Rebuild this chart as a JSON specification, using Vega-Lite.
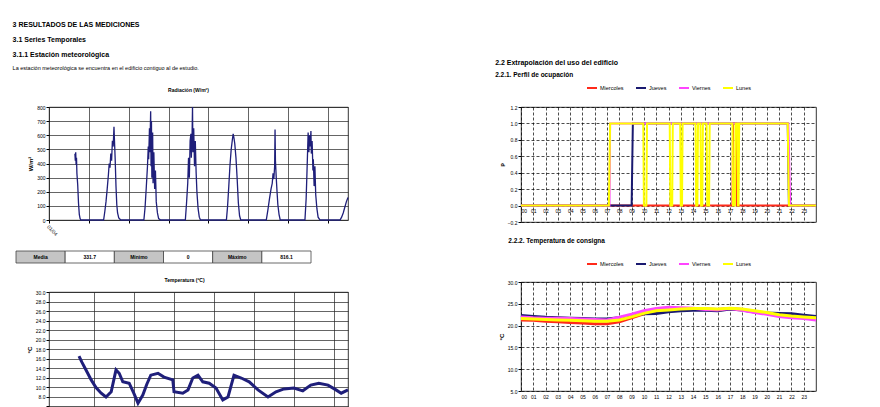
{
  "$schema": "https://vega.github.io/schema/vega-lite/v6.json",
  "background": "white",
  "padding": {"left": 12, "top": 20, "right": 0, "bottom": 0},
  "config": {
    "font": "Liberation Sans",
    "view": {"stroke": "#000", "strokeWidth": 0.8},
    "axis": {"labelFontSize": 5, "labelColor": "#000", "titleFontSize": 6, "titleColor": "#000", "titleFontWeight": "bold", "tickColor": "#000", "domainColor": "#000", "gridColor": "#000", "gridOpacity": 1, "gridWidth": 0.7, "tickSize": 3, "labelPadding": 1, "titlePadding": 3},
    "legend": {"labelFontSize": 5.5, "labelColor": "#000", "symbolType": "stroke", "symbolSize": 100, "symbolStrokeWidth": 2, "columnPadding": 8, "labelOffset": 2, "padding": 0, "layout": {"top": {"anchor": "middle"}}},
    "title": {"color": "#000", "subtitleColor": "#000", "fontWeight": "bold"}
  },
  "datasets": {
    "rad": [
      {"t":0.65,"w":470},{"t":0.66,"w":420},{"t":0.67,"w":480},{"t":0.68,"w":390},{"t":0.69,"w":440},{"t":0.70,"w":330},{"t":0.72,"w":250},{"t":0.74,"w":120},{"t":0.76,"w":40},{"t":0.78,"w":10},{"t":0.80,"w":0},{"t":1.0,"w":0},{"t":1.2,"w":0},
      {"t":1.37,"w":0},{"t":1.40,"w":60},{"t":1.43,"w":130},{"t":1.46,"w":220},{"t":1.49,"w":320},{"t":1.51,"w":400},{"t":1.53,"w":370},{"t":1.55,"w":470},{"t":1.57,"w":420},{"t":1.59,"w":560},{"t":1.61,"w":520},{"t":1.63,"w":660},{"t":1.64,"w":580},{"t":1.66,"w":430},{"t":1.68,"w":240},{"t":1.70,"w":110},{"t":1.72,"w":50},{"t":1.75,"w":15},{"t":1.80,"w":0},{"t":2.0,"w":0},{"t":2.2,"w":0},
      {"t":2.38,"w":0},{"t":2.41,"w":90},{"t":2.44,"w":230},{"t":2.47,"w":380},{"t":2.49,"w":520},{"t":2.50,"w":430},{"t":2.52,"w":650},{"t":2.53,"w":480},{"t":2.55,"w":770},{"t":2.56,"w":380},{"t":2.57,"w":700},{"t":2.58,"w":300},{"t":2.60,"w":620},{"t":2.61,"w":260},{"t":2.63,"w":480},{"t":2.65,"w":220},{"t":2.67,"w":350},{"t":2.69,"w":130},{"t":2.72,"w":50},{"t":2.75,"w":10},{"t":2.80,"w":0},{"t":3.0,"w":0},{"t":3.2,"w":0},
      {"t":3.42,"w":0},{"t":3.45,"w":120},{"t":3.48,"w":260},{"t":3.50,"w":440},{"t":3.52,"w":300},{"t":3.54,"w":560},{"t":3.56,"w":610},{"t":3.57,"w":440},{"t":3.59,"w":620},{"t":3.60,"w":800},{"t":3.61,"w":480},{"t":3.63,"w":650},{"t":3.65,"w":380},{"t":3.67,"w":560},{"t":3.69,"w":340},{"t":3.71,"w":200},{"t":3.74,"w":80},{"t":3.77,"w":20},{"t":3.80,"w":0},{"t":4.0,"w":0},{"t":4.2,"w":0},
      {"t":4.45,"w":0},{"t":4.48,"w":100},{"t":4.51,"w":240},{"t":4.54,"w":390},{"t":4.57,"w":500},{"t":4.60,"w":570},{"t":4.62,"w":610},{"t":4.64,"w":580},{"t":4.66,"w":540},{"t":4.69,"w":440},{"t":4.72,"w":290},{"t":4.75,"w":120},{"t":4.78,"w":30},{"t":4.81,"w":0},{"t":5.0,"w":0},{"t":5.2,"w":0},
      {"t":5.45,"w":0},{"t":5.49,"w":70},{"t":5.53,"w":150},{"t":5.57,"w":220},{"t":5.60,"w":260},{"t":5.62,"w":330},{"t":5.64,"w":290},{"t":5.66,"w":380},{"t":5.67,"w":640},{"t":5.68,"w":420},{"t":5.70,"w":300},{"t":5.72,"w":200},{"t":5.74,"w":110},{"t":5.77,"w":40},{"t":5.80,"w":0},{"t":6.0,"w":0},{"t":6.2,"w":0},
      {"t":6.42,"w":0},{"t":6.45,"w":150},{"t":6.47,"w":330},{"t":6.49,"w":520},{"t":6.50,"w":620},{"t":6.52,"w":480},{"t":6.53,"w":600},{"t":6.55,"w":520},{"t":6.57,"w":630},{"t":6.58,"w":470},{"t":6.60,"w":560},{"t":6.62,"w":350},{"t":6.63,"w":430},{"t":6.65,"w":240},{"t":6.67,"w":380},{"t":6.69,"w":180},{"t":6.72,"w":80},{"t":6.75,"w":20},{"t":6.80,"w":0},{"t":7.0,"w":0},
      {"t":7.3,"w":0},{"t":7.34,"w":20},{"t":7.38,"w":50},{"t":7.42,"w":90},{"t":7.46,"w":130},{"t":7.5,"w":160}
    ],
    "temp": [
      {"t":0.625,"c":16.5},{"t":0.7,"c":15.2},{"t":0.8,"c":13.6},{"t":0.93,"c":11.5},{"t":1.05,"c":9.9},{"t":1.18,"c":8.7},{"t":1.3,"c":7.9},{"t":1.43,"c":9.0},{"t":1.55,"c":13.6},{"t":1.63,"c":12.9},{"t":1.72,"c":11.1},{"t":1.88,"c":10.8},{"t":2.0,"c":8.6},{"t":2.1,"c":6.6},{"t":2.22,"c":8.3},{"t":2.32,"c":10.6},{"t":2.42,"c":12.5},{"t":2.6,"c":12.9},{"t":2.75,"c":12.1},{"t":2.97,"c":11.5},{"t":3.0,"c":9.0},{"t":3.22,"c":8.7},{"t":3.35,"c":9.4},{"t":3.47,"c":11.9},{"t":3.6,"c":12.5},{"t":3.72,"c":11.1},{"t":3.88,"c":10.8},{"t":4.05,"c":9.8},{"t":4.22,"c":7.3},{"t":4.35,"c":7.9},{"t":4.5,"c":12.5},{"t":4.68,"c":11.9},{"t":4.88,"c":11.1},{"t":5.1,"c":9.4},{"t":5.35,"c":7.9},{"t":5.55,"c":9.0},{"t":5.75,"c":9.6},{"t":6.0,"c":9.8},{"t":6.22,"c":9.2},{"t":6.42,"c":10.4},{"t":6.62,"c":10.8},{"t":6.85,"c":10.4},{"t":7.05,"c":9.4},{"t":7.18,"c":8.7},{"t":7.35,"c":9.4}
    ],
    "tabla": [
      {"celda":"c1","texto":"Media","tipo":"etiqueta"},
      {"celda":"c2","texto":"331.7","tipo":"valor"},
      {"celda":"c3","texto":"Mínimo","tipo":"etiqueta"},
      {"celda":"c4","texto":"0","tipo":"valor"},
      {"celda":"c5","texto":"Máximo","tipo":"etiqueta"},
      {"celda":"c6","texto":"816.1","tipo":"valor"}
    ],
    "ocup": [
      {"dia":"Miercoles","hora":0,"p":0},{"dia":"Miercoles","hora":17.2,"p":0},{"dia":"Miercoles","hora":17.25,"p":1},{"dia":"Miercoles","hora":17.5,"p":1},{"dia":"Miercoles","hora":17.55,"p":0},{"dia":"Miercoles","hora":24,"p":0},
      {"dia":"Jueves","hora":0,"p":0},{"dia":"Jueves","hora":9.0,"p":0},{"dia":"Jueves","hora":9.1,"p":1},{"dia":"Jueves","hora":21.7,"p":1},{"dia":"Jueves","hora":21.8,"p":0},{"dia":"Jueves","hora":24,"p":0},
      {"dia":"Viernes","hora":0,"p":0},{"dia":"Viernes","hora":7.2,"p":0},{"dia":"Viernes","hora":7.25,"p":1},{"dia":"Viernes","hora":21.75,"p":1},{"dia":"Viernes","hora":21.9,"p":0},{"dia":"Viernes","hora":24,"p":0},
      {"dia":"Lunes","hora":0,"p":0},{"dia":"Lunes","hora":7.15,"p":0},{"dia":"Lunes","hora":7.25,"p":1},{"dia":"Lunes","hora":9.95,"p":1},{"dia":"Lunes","hora":10.0,"p":0},{"dia":"Lunes","hora":10.2,"p":0},{"dia":"Lunes","hora":10.25,"p":1},{"dia":"Lunes","hora":12.1,"p":1},{"dia":"Lunes","hora":12.15,"p":0},{"dia":"Lunes","hora":12.3,"p":0},{"dia":"Lunes","hora":12.35,"p":1},{"dia":"Lunes","hora":12.95,"p":1},{"dia":"Lunes","hora":13.0,"p":0},{"dia":"Lunes","hora":13.1,"p":0},{"dia":"Lunes","hora":13.15,"p":1},{"dia":"Lunes","hora":14.2,"p":1},{"dia":"Lunes","hora":14.25,"p":0},{"dia":"Lunes","hora":14.35,"p":0},{"dia":"Lunes","hora":14.4,"p":1},{"dia":"Lunes","hora":14.6,"p":1},{"dia":"Lunes","hora":14.65,"p":0},{"dia":"Lunes","hora":14.75,"p":0},{"dia":"Lunes","hora":14.8,"p":1},{"dia":"Lunes","hora":15.1,"p":1},{"dia":"Lunes","hora":15.15,"p":0},{"dia":"Lunes","hora":15.3,"p":0},{"dia":"Lunes","hora":15.35,"p":1},{"dia":"Lunes","hora":17.2,"p":1},{"dia":"Lunes","hora":17.25,"p":0},{"dia":"Lunes","hora":17.4,"p":0},{"dia":"Lunes","hora":17.45,"p":1},{"dia":"Lunes","hora":17.6,"p":1},{"dia":"Lunes","hora":17.65,"p":0},{"dia":"Lunes","hora":17.7,"p":0},{"dia":"Lunes","hora":17.75,"p":1},{"dia":"Lunes","hora":21.7,"p":1},{"dia":"Lunes","hora":21.8,"p":0},{"dia":"Lunes","hora":24,"p":0}
    ],
    "consigna": [
      {"dia":"Miercoles","hora":0,"t":21.3},{"dia":"Miercoles","hora":1,"t":21.2},{"dia":"Miercoles","hora":2,"t":21.0},{"dia":"Miercoles","hora":3,"t":20.9},{"dia":"Miercoles","hora":4,"t":20.7},{"dia":"Miercoles","hora":5,"t":20.6},{"dia":"Miercoles","hora":6,"t":20.4},{"dia":"Miercoles","hora":7,"t":20.4},{"dia":"Miercoles","hora":8,"t":20.9},{"dia":"Miercoles","hora":9,"t":21.8},{"dia":"Miercoles","hora":10,"t":22.7},{"dia":"Miercoles","hora":11,"t":23.2},{"dia":"Miercoles","hora":12,"t":23.6},{"dia":"Miercoles","hora":13,"t":23.8},{"dia":"Miercoles","hora":14,"t":23.9},{"dia":"Miercoles","hora":15,"t":23.8},{"dia":"Miercoles","hora":16,"t":23.7},{"dia":"Miercoles","hora":17,"t":23.9},{"dia":"Miercoles","hora":18,"t":23.7},{"dia":"Miercoles","hora":19,"t":23.2},{"dia":"Miercoles","hora":20,"t":22.9},{"dia":"Miercoles","hora":21,"t":22.5},{"dia":"Miercoles","hora":22,"t":22.2},{"dia":"Miercoles","hora":23,"t":21.9},{"dia":"Miercoles","hora":24,"t":21.7},
      {"dia":"Jueves","hora":0,"t":22.3},{"dia":"Jueves","hora":1,"t":22.1},{"dia":"Jueves","hora":2,"t":21.9},{"dia":"Jueves","hora":3,"t":21.8},{"dia":"Jueves","hora":4,"t":21.7},{"dia":"Jueves","hora":5,"t":21.6},{"dia":"Jueves","hora":6,"t":21.5},{"dia":"Jueves","hora":7,"t":21.5},{"dia":"Jueves","hora":8,"t":21.8},{"dia":"Jueves","hora":9,"t":22.3},{"dia":"Jueves","hora":10,"t":22.7},{"dia":"Jueves","hora":11,"t":22.8},{"dia":"Jueves","hora":12,"t":23.2},{"dia":"Jueves","hora":13,"t":23.4},{"dia":"Jueves","hora":14,"t":23.5},{"dia":"Jueves","hora":15,"t":23.5},{"dia":"Jueves","hora":16,"t":23.4},{"dia":"Jueves","hora":17,"t":23.8},{"dia":"Jueves","hora":18,"t":23.6},{"dia":"Jueves","hora":19,"t":23.1},{"dia":"Jueves","hora":20,"t":22.9},{"dia":"Jueves","hora":21,"t":22.8},{"dia":"Jueves","hora":22,"t":22.7},{"dia":"Jueves","hora":23,"t":22.4},{"dia":"Jueves","hora":24,"t":22.1},
      {"dia":"Viernes","hora":0,"t":22.0},{"dia":"Viernes","hora":1,"t":21.8},{"dia":"Viernes","hora":2,"t":21.7},{"dia":"Viernes","hora":3,"t":21.7},{"dia":"Viernes","hora":4,"t":21.6},{"dia":"Viernes","hora":5,"t":21.5},{"dia":"Viernes","hora":6,"t":21.4},{"dia":"Viernes","hora":7,"t":21.3},{"dia":"Viernes","hora":8,"t":21.9},{"dia":"Viernes","hora":9,"t":22.6},{"dia":"Viernes","hora":10,"t":23.4},{"dia":"Viernes","hora":11,"t":23.9},{"dia":"Viernes","hora":12,"t":24.2},{"dia":"Viernes","hora":13,"t":24.1},{"dia":"Viernes","hora":14,"t":24.0},{"dia":"Viernes","hora":15,"t":23.7},{"dia":"Viernes","hora":16,"t":23.6},{"dia":"Viernes","hora":17,"t":23.9},{"dia":"Viernes","hora":18,"t":23.5},{"dia":"Viernes","hora":19,"t":23.0},{"dia":"Viernes","hora":20,"t":22.6},{"dia":"Viernes","hora":21,"t":22.1},{"dia":"Viernes","hora":22,"t":21.8},{"dia":"Viernes","hora":23,"t":21.6},{"dia":"Viernes","hora":24,"t":21.3},
      {"dia":"Lunes","hora":0,"t":21.6},{"dia":"Lunes","hora":1,"t":21.5},{"dia":"Lunes","hora":2,"t":21.4},{"dia":"Lunes","hora":3,"t":21.3},{"dia":"Lunes","hora":4,"t":21.2},{"dia":"Lunes","hora":5,"t":21.1},{"dia":"Lunes","hora":6,"t":21.0},{"dia":"Lunes","hora":7,"t":21.0},{"dia":"Lunes","hora":8,"t":21.3},{"dia":"Lunes","hora":9,"t":22.0},{"dia":"Lunes","hora":10,"t":22.8},{"dia":"Lunes","hora":11,"t":23.4},{"dia":"Lunes","hora":12,"t":23.6},{"dia":"Lunes","hora":13,"t":23.8},{"dia":"Lunes","hora":14,"t":23.9},{"dia":"Lunes","hora":15,"t":23.9},{"dia":"Lunes","hora":16,"t":23.8},{"dia":"Lunes","hora":17,"t":24.0},{"dia":"Lunes","hora":18,"t":23.8},{"dia":"Lunes","hora":19,"t":23.4},{"dia":"Lunes","hora":20,"t":23.0},{"dia":"Lunes","hora":21,"t":22.5},{"dia":"Lunes","hora":22,"t":22.2},{"dia":"Lunes","hora":23,"t":22.0},{"dia":"Lunes","hora":24,"t":21.8}
    ]
  },
  "spacing": 139,
  "hconcat": [
    {
      "title": {
        "text": ["3 RESULTADOS DE LAS MEDICIONES", "\u00a0\u00a0\u00a0\u00a0\u00a0\u00a0\u00a03.1 Series Temporales", "\u00a0\u00a0\u00a0\u00a0\u00a0\u00a0\u00a0\u00a0\u00a0\u00a0\u00a0\u00a0\u00a03.1.1 Estación meteorológica"],
        "subtitle": "\u00a0\u00a0La estación meteorológica se encuentra en el edificio contiguo al de estudio.",
        "anchor": "start", "fontSize": 7, "lineHeight": 15, "subtitleFontSize": 5.5, "subtitlePadding": 8, "offset": 17, "dx": -3
      },
      "spacing": 13,
      "vconcat": [
        {
          "title": {"text": "Radiación (W/m²)", "fontSize": 5, "anchor": "middle", "offset": 11, "dx": -10},
          "width": 299, "height": 113,
          "data": {"name": "rad"},
          "mark": {"type": "line", "color": "#1f1f7a", "strokeWidth": 1.3},
          "encoding": {
            "x": {"field": "t", "type": "quantitative", "scale": {"domain": [0, 7.5], "nice": false},
                  "axis": {"values": [0, 1, 2, 3, 4, 5, 6, 7], "labelExpr": "datum.value == 0 ? '01/04' : ''", "labelAngle": 45, "labelFontSize": 5, "title": null, "domain": false, "gridColor": "#222"}},
            "y": {"field": "w", "type": "quantitative", "scale": {"domain": [0, 800], "nice": false},
                  "axis": {"values": [0, 100, 200, 300, 400, 500, 600, 700, 800], "title": "W/m²", "domain": false, "gridColor": "#222"}}
          }
        },
        {
          "width": 299, "height": 12,
          "data": {"name": "tabla"},
          "view": {"stroke": null},
          "encoding": {
            "x": {"field": "celda", "type": "ordinal", "scale": {"range": [-33, 262], "paddingInner": 0, "paddingOuter": 0}, "axis": null}
          },
          "layer": [
            {"mark": {"type": "rect", "stroke": "#444", "strokeWidth": 0.8},
             "encoding": {"color": {"condition": {"test": "datum.tipo == 'etiqueta'", "value": "#c4c4c4"}, "value": "#ffffff"}}},
            {"mark": {"type": "text", "fontSize": 5, "fontWeight": "bold", "color": "#000"},
             "encoding": {"text": {"field": "texto"}}}
          ]
        },
        {
          "title": {"text": "Temperatura (ºC)", "fontSize": 5, "anchor": "middle", "offset": 7, "dx": -14},
          "width": 299, "height": 115,
          "data": {"name": "temp"},
          "mark": {"type": "line", "color": "#1f1f7a", "strokeWidth": 3},
          "encoding": {
            "x": {"field": "t", "type": "quantitative", "scale": {"domain": [-0.125, 7.35], "nice": false},
                  "axis": {"values": [1, 2, 3, 4, 5, 6, 7], "labels": false, "ticks": false, "domain": false, "title": null, "gridColor": "#222"}},
            "y": {"field": "c", "type": "quantitative", "scale": {"domain": [5.8, 30], "nice": false},
                  "axis": {"values": [6, 8, 10, 12, 14, 16, 18, 20, 22, 24, 26, 28, 30], "labelExpr": "datum.value < 7 ? '' : format(datum.value, '.1f')", "title": "ºC", "domain": false, "gridColor": "#222"}}
          }
        }
      ]
    },
    {
      "spacing": 11,
      "resolve": {"legend": {"color": "independent"}},
      "vconcat": [
        {
          "title": {
            "text": "2.2 Extrapolación del uso del edificio",
            "subtitle": "\u00a0\u00a0\u00a0\u00a0\u00a0\u00a02.2.1. Perfil de ocupación",
            "anchor": "start", "fontSize": 7, "subtitleFontSize": 6.5, "subtitleFontWeight": "bold", "subtitlePadding": 6, "offset": 4, "dx": -3
          },
          "width": 295, "height": 115,
          "data": {"name": "ocup"},
          "mark": {"type": "line", "strokeWidth": 2},
          "encoding": {
            "x": {"field": "hora", "type": "quantitative", "scale": {"domain": [0, 24], "nice": false},
                  "axis": {"values": [0, 1, 2, 3, 4, 5, 6, 7, 8, 9, 10, 11, 12, 13, 14, 15, 16, 17, 18, 19, 20, 21, 22, 23], "labelExpr": "datum.value < 10 ? '0' + datum.value : '' + datum.value", "offset": -16, "domain": false, "ticks": false, "labelPadding": 2, "title": null, "gridDash": [3, 2]}},
            "y": {"field": "p", "type": "quantitative", "scale": {"domain": [-0.2, 1.2], "nice": false},
                  "axis": {"values": [-0.2, 0, 0.2, 0.4, 0.6, 0.8, 1.0, 1.2], "format": ".1f", "title": "p", "domain": false, "gridDash": [3, 2]}},
            "color": {"field": "dia", "type": "nominal", "scale": {"domain": ["Miercoles", "Jueves", "Viernes", "Lunes"], "range": ["#ff2a1a", "#1a1a70", "#ff44ff", "#ffff00"]},
                      "legend": {"orient": "top", "direction": "horizontal", "title": null, "offset": 15}}
          }
        },
        {
          "title": {"text": "2.2.2. Temperatura de consigna", "anchor": "start", "fontSize": 6.5, "offset": 14, "dx": 10},
          "width": 295, "height": 109,
          "data": {"name": "consigna"},
          "mark": {"type": "line", "strokeWidth": 3},
          "encoding": {
            "x": {"field": "hora", "type": "quantitative", "scale": {"domain": [0, 24], "nice": false},
                  "axis": {"values": [0, 1, 2, 3, 4, 5, 6, 7, 8, 9, 10, 11, 12, 13, 14, 15, 16, 17, 18, 19, 20, 21, 22, 23], "labelExpr": "datum.value < 10 ? '0' + datum.value : '' + datum.value", "domain": false, "ticks": false, "labelPadding": 3, "title": null, "gridDash": [3, 2]}},
            "y": {"field": "t", "type": "quantitative", "scale": {"domain": [5, 30], "nice": false},
                  "axis": {"values": [5, 10, 15, 20, 25, 30], "format": ".1f", "title": "ºC", "domain": false, "gridDash": [3, 2]}},
            "color": {"field": "dia", "type": "nominal", "scale": {"domain": ["Miercoles", "Jueves", "Viernes", "Lunes"], "range": ["#ff2a1a", "#1a1a70", "#ff44ff", "#ffff00"]},
                      "legend": {"orient": "top", "direction": "horizontal", "title": null, "offset": 14}}
          }
        }
      ]
    }
  ]
}
